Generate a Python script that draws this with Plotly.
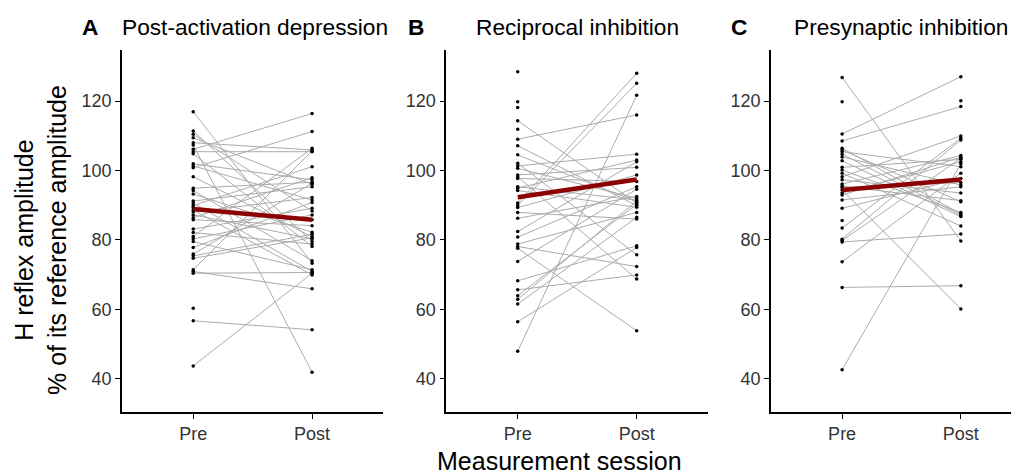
import plotly.graph_objects as go

# ---------------- data ----------------
sessions = ["Pre", "Post"]
panel_letters = ["A", "B", "C"]
panel_titles = ["Post-activation depression", "Reciprocal inhibition", "Presynaptic inhibition"]

pad_pre = [116.9, 111.4, 110.4, 109.4, 108.0, 107.3, 106.1, 105.4, 104.8, 101.9,
           101.3, 100.8, 98.2, 94.9, 94.2, 93.2, 91.2, 90.6, 89.9, 89.3,
           88.6, 88.0, 87.2, 86.4, 85.8, 83.1, 82.1, 81.0, 80.3, 79.5,
           77.8, 75.9, 75.4, 74.7, 71.4, 70.9, 70.4, 60.3, 56.7, 43.7]
pad_post = [73.3, 79.5, 88.3, 96.0, 105.9, 41.9, 116.4, 105.4, 78.1, 97.3,
            91.5, 111.2, 80.9, 96.6, 74.0, 82.2, 95.3, 70.9, 101.1, 85.8,
            69.9, 92.2, 80.3, 97.9, 84.1, 89.1, 78.8, 106.4, 87.2, 71.4,
            90.8, 96.3, 81.6, 80.6, 105.6, 65.9, 70.6, None, 54.1, 70.4]

ri_pre = [128.4, 119.8, 118.1, 114.3, 111.9, 109.0, 107.1, 104.5, 102.1, 101.3,
          100.6, 98.7, 98.2, 97.7, 95.3, 94.9, 94.2, 90.6, 89.9, 89.3,
          87.9, 86.2, 82.4, 80.8, 78.8, 78.1, 77.6, 73.8, 68.2, 65.6,
          63.9, 62.9, 61.5, 56.4, 47.9]
ri_post = [None, None, None, 90.6, None, 116.0, 89.9, 91.0, 75.7, 104.7,
           92.0, 100.9, 68.7, 96.8, 91.5, 103.0, 89.4, 128.0, 125.1, 98.7,
           86.0, 92.5, 102.5, 95.3, 87.9, 72.3, 53.8, 94.6, 78.3, 69.9,
           90.3, 91.2, 86.5, 77.8, 121.7]

psi_pre = [126.8, 119.8, 110.5, 108.5, 106.4, 105.9, 105.4, 104.7, 103.9, 102.8,
           100.9, 100.1, 99.2, 98.2, 97.3, 96.1, 95.5, 95.1, 94.4, 93.5,
           92.9, 91.5, 89.1, 85.6, 83.4, 80.2, 79.8, 79.4, 73.7, 66.3,
           42.6, None]
psi_post = [79.7, None, 127.0, 118.4, 87.5, 91.0, 101.1, 87.1, 95.8, 86.7,
            103.2, 87.9, 84.0, 109.9, 93.5, 104.3, 91.3, 96.5, 60.1, 102.5,
            103.8, 95.3, 97.7, None, 109.3, 108.8, 103.5, 81.7, 99.2, 66.8,
            101.9, 120.1]

mean_pre = [88.9, 92.3, 94.4]
mean_post = [85.8, 97.4, 97.4]

y_ticks = [40, 60, 80, 100, 120]

panels = [(pad_pre, pad_post), (ri_pre, ri_post), (psi_pre, psi_post)]

# ---------------- layout geometry ----------------
# the page body adds an 8px offset, so figure pixel = screen pixel - 8
W, H = 1019, 474
OFF = 8
def fx(px):
    return (px - OFF) / W
def fy(py):
    return 1 - (py - OFF) / H

UNIT = 118.7
x_domains = [[fx(121.9), fx(383.4)], [fx(446.3), fx(708.1)], [fx(770.9), 1.0]]
c_units = (W - (770.9 - OFF)) / UNIT
x_ranges = [[-0.6, 1.6], [-0.6, 1.6], [-0.6, -0.6 + c_units]]
y_domain = [fy(411.7), fy(50)]
y_range = [30.5, 134.7]
letter_px = [80, 406, 729]
title_px = [119.5, 474, 792]

FONT = "Arial, Liberation Sans, Helvetica, sans-serif"
LINE_GREY = "#ababab"
MEAN_RED = "#8b0000"
TICK_COL = "#333333"

fig = go.Figure()

for i, (pre, post) in enumerate(panels):
    xa = "x" if i == 0 else f"x{i+1}"
    ya = "y" if i == 0 else f"y{i+1}"
    xs, ys = [], []
    for a, b in zip(pre, post):
        if a is None or b is None:
            continue
        xs += [sessions[0], sessions[1], None]
        ys += [a, b, None]
    fig.add_trace(go.Scatter(x=xs, y=ys, mode="lines", xaxis=xa, yaxis=ya,
                             line=dict(color=LINE_GREY, width=1),
                             hoverinfo="skip", showlegend=False))
    px_, py_ = [], []
    for a in pre:
        if a is not None:
            px_.append(sessions[0]); py_.append(a)
    for b in post:
        if b is not None:
            px_.append(sessions[1]); py_.append(b)
    fig.add_trace(go.Scatter(x=px_, y=py_, mode="markers", xaxis=xa, yaxis=ya,
                             marker=dict(color="black", size=3.5, line=dict(width=0)),
                             showlegend=False))
    fig.add_trace(go.Scatter(x=sessions, y=[mean_pre[i], mean_post[i]], mode="lines",
                             xaxis=xa, yaxis=ya,
                             line=dict(color=MEAN_RED, width=4.5),
                             showlegend=False))

axis_common = dict(showline=True, linecolor="black", linewidth=1.6, mirror=False,
                   ticks="outside", ticklen=5, tickwidth=1.2, tickcolor="black",
                   showgrid=False, zeroline=False,
                   tickfont=dict(family=FONT, size=18, color=TICK_COL))

layout = dict(width=W, height=H, margin=dict(l=0, r=0, t=0, b=0),
              paper_bgcolor="white", plot_bgcolor="white",
              font=dict(family=FONT), showlegend=False)

for i in range(3):
    xk = "xaxis" if i == 0 else f"xaxis{i+1}"
    yk = "yaxis" if i == 0 else f"yaxis{i+1}"
    ya = "y" if i == 0 else f"y{i+1}"
    xa = "x" if i == 0 else f"x{i+1}"
    layout[xk] = dict(axis_common, type="category", categoryorder="array",
                      categoryarray=sessions, range=x_ranges[i],
                      domain=x_domains[i], anchor=ya)
    layout[yk] = dict(axis_common, range=y_range, domain=y_domain, anchor=xa,
                      tickvals=y_ticks, ticktext=[str(v) for v in y_ticks])

annotations = []
for i in range(3):
    annotations.append(dict(text=f"<b>{panel_letters[i]}</b>", xref="paper", yref="paper",
                            x=fx(letter_px[i]), y=fy(27), xanchor="left", yanchor="middle",
                            showarrow=False, font=dict(family=FONT, size=22.7, color="black")))
    annotations.append(dict(text=panel_titles[i], xref="paper", yref="paper",
                            x=fx(title_px[i]), y=fy(27), xanchor="left", yanchor="middle",
                            showarrow=False, font=dict(family=FONT, size=22.7, color="black")))
annotations.append(dict(text="H reflex amplitude<br>% of its reference amplitude",
                        xref="paper", yref="paper", x=fx(40), y=fy(240),
                        xanchor="center", yanchor="middle", textangle=-90,
                        showarrow=False, align="center",
                        font=dict(family=FONT, size=25, color="black")))
annotations.append(dict(text="Measurement session", xref="paper", yref="paper",
                        x=fx(559), y=fy(461), xanchor="center", yanchor="middle",
                        showarrow=False, font=dict(family=FONT, size=25, color="black")))
layout["annotations"] = annotations

fig.update_layout(**layout)
fig.write_html("out.html")
